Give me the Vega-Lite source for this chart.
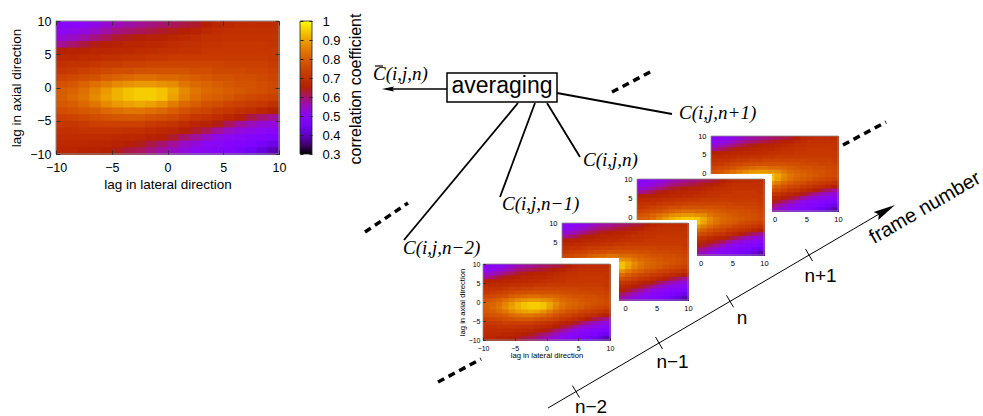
{
"$schema": "https://vega.github.io/schema/vega-lite/v6.json",
"width": 983, "height": 416, "autosize": "none", "padding": 0, "background": "white",
"config": {"view": {"stroke": null}, "font": "Liberation Sans",
  "axis": {"labelFont": "Liberation Sans", "titleFont": "Liberation Sans", "labelColor": "#000", "titleColor": "#000", "titleFontWeight": "normal", "grid": false, "labelFlush": false, "labelOverlap": false},
  "legend": {"labelFont": "Liberation Sans"}},
"datasets": {"grid": [
{"lat":-10,"ax":9,"r":0.50},{"lat":-9,"ax":9,"r":0.50},{"lat":-8,"ax":9,"r":0.51},{"lat":-7,"ax":9,"r":0.52},{"lat":-6,"ax":9,"r":0.54},{"lat":-5,"ax":9,"r":0.56},{"lat":-4,"ax":9,"r":0.57},{"lat":-3,"ax":9,"r":0.58},{"lat":-2,"ax":9,"r":0.59},{"lat":-1,"ax":9,"r":0.60},{"lat":0,"ax":9,"r":0.61},{"lat":1,"ax":9,"r":0.62},{"lat":2,"ax":9,"r":0.63},{"lat":3,"ax":9,"r":0.65},{"lat":4,"ax":9,"r":0.67},{"lat":5,"ax":9,"r":0.68},{"lat":6,"ax":9,"r":0.69},{"lat":7,"ax":9,"r":0.69},{"lat":8,"ax":9,"r":0.69},{"lat":9,"ax":9,"r":0.69},
{"lat":-10,"ax":8,"r":0.51},{"lat":-9,"ax":8,"r":0.52},{"lat":-8,"ax":8,"r":0.53},{"lat":-7,"ax":8,"r":0.55},{"lat":-6,"ax":8,"r":0.57},{"lat":-5,"ax":8,"r":0.59},{"lat":-4,"ax":8,"r":0.60},{"lat":-3,"ax":8,"r":0.61},{"lat":-2,"ax":8,"r":0.62},{"lat":-1,"ax":8,"r":0.63},{"lat":0,"ax":8,"r":0.64},{"lat":1,"ax":8,"r":0.65},{"lat":2,"ax":8,"r":0.66},{"lat":3,"ax":8,"r":0.68},{"lat":4,"ax":8,"r":0.69},{"lat":5,"ax":8,"r":0.70},{"lat":6,"ax":8,"r":0.70},{"lat":7,"ax":8,"r":0.70},{"lat":8,"ax":8,"r":0.70},{"lat":9,"ax":8,"r":0.70},
{"lat":-10,"ax":7,"r":0.54},{"lat":-9,"ax":7,"r":0.55},{"lat":-8,"ax":7,"r":0.57},{"lat":-7,"ax":7,"r":0.59},{"lat":-6,"ax":7,"r":0.61},{"lat":-5,"ax":7,"r":0.63},{"lat":-4,"ax":7,"r":0.64},{"lat":-3,"ax":7,"r":0.65},{"lat":-2,"ax":7,"r":0.66},{"lat":-1,"ax":7,"r":0.66},{"lat":0,"ax":7,"r":0.67},{"lat":1,"ax":7,"r":0.68},{"lat":2,"ax":7,"r":0.69},{"lat":3,"ax":7,"r":0.70},{"lat":4,"ax":7,"r":0.70},{"lat":5,"ax":7,"r":0.71},{"lat":6,"ax":7,"r":0.71},{"lat":7,"ax":7,"r":0.71},{"lat":8,"ax":7,"r":0.71},{"lat":9,"ax":7,"r":0.71},
{"lat":-10,"ax":6,"r":0.58},{"lat":-9,"ax":6,"r":0.60},{"lat":-8,"ax":6,"r":0.62},{"lat":-7,"ax":6,"r":0.64},{"lat":-6,"ax":6,"r":0.65},{"lat":-5,"ax":6,"r":0.66},{"lat":-4,"ax":6,"r":0.67},{"lat":-3,"ax":6,"r":0.67},{"lat":-2,"ax":6,"r":0.68},{"lat":-1,"ax":6,"r":0.68},{"lat":0,"ax":6,"r":0.69},{"lat":1,"ax":6,"r":0.70},{"lat":2,"ax":6,"r":0.70},{"lat":3,"ax":6,"r":0.71},{"lat":4,"ax":6,"r":0.71},{"lat":5,"ax":6,"r":0.72},{"lat":6,"ax":6,"r":0.72},{"lat":7,"ax":6,"r":0.72},{"lat":8,"ax":6,"r":0.72},{"lat":9,"ax":6,"r":0.71},
{"lat":-10,"ax":5,"r":0.65},{"lat":-9,"ax":5,"r":0.66},{"lat":-8,"ax":5,"r":0.66},{"lat":-7,"ax":5,"r":0.67},{"lat":-6,"ax":5,"r":0.67},{"lat":-5,"ax":5,"r":0.68},{"lat":-4,"ax":5,"r":0.68},{"lat":-3,"ax":5,"r":0.69},{"lat":-2,"ax":5,"r":0.69},{"lat":-1,"ax":5,"r":0.70},{"lat":0,"ax":5,"r":0.70},{"lat":1,"ax":5,"r":0.71},{"lat":2,"ax":5,"r":0.71},{"lat":3,"ax":5,"r":0.72},{"lat":4,"ax":5,"r":0.72},{"lat":5,"ax":5,"r":0.72},{"lat":6,"ax":5,"r":0.72},{"lat":7,"ax":5,"r":0.72},{"lat":8,"ax":5,"r":0.72},{"lat":9,"ax":5,"r":0.72},
{"lat":-10,"ax":4,"r":0.68},{"lat":-9,"ax":4,"r":0.68},{"lat":-8,"ax":4,"r":0.69},{"lat":-7,"ax":4,"r":0.69},{"lat":-6,"ax":4,"r":0.70},{"lat":-5,"ax":4,"r":0.70},{"lat":-4,"ax":4,"r":0.71},{"lat":-3,"ax":4,"r":0.71},{"lat":-2,"ax":4,"r":0.72},{"lat":-1,"ax":4,"r":0.72},{"lat":0,"ax":4,"r":0.73},{"lat":1,"ax":4,"r":0.73},{"lat":2,"ax":4,"r":0.73},{"lat":3,"ax":4,"r":0.73},{"lat":4,"ax":4,"r":0.73},{"lat":5,"ax":4,"r":0.73},{"lat":6,"ax":4,"r":0.73},{"lat":7,"ax":4,"r":0.73},{"lat":8,"ax":4,"r":0.73},{"lat":9,"ax":4,"r":0.72},
{"lat":-10,"ax":3,"r":0.70},{"lat":-9,"ax":3,"r":0.71},{"lat":-8,"ax":3,"r":0.71},{"lat":-7,"ax":3,"r":0.72},{"lat":-6,"ax":3,"r":0.73},{"lat":-5,"ax":3,"r":0.73},{"lat":-4,"ax":3,"r":0.74},{"lat":-3,"ax":3,"r":0.74},{"lat":-2,"ax":3,"r":0.75},{"lat":-1,"ax":3,"r":0.75},{"lat":0,"ax":3,"r":0.75},{"lat":1,"ax":3,"r":0.75},{"lat":2,"ax":3,"r":0.75},{"lat":3,"ax":3,"r":0.75},{"lat":4,"ax":3,"r":0.75},{"lat":5,"ax":3,"r":0.74},{"lat":6,"ax":3,"r":0.74},{"lat":7,"ax":3,"r":0.74},{"lat":8,"ax":3,"r":0.74},{"lat":9,"ax":3,"r":0.73},
{"lat":-10,"ax":2,"r":0.72},{"lat":-9,"ax":2,"r":0.73},{"lat":-8,"ax":2,"r":0.74},{"lat":-7,"ax":2,"r":0.75},{"lat":-6,"ax":2,"r":0.76},{"lat":-5,"ax":2,"r":0.77},{"lat":-4,"ax":2,"r":0.77},{"lat":-3,"ax":2,"r":0.78},{"lat":-2,"ax":2,"r":0.78},{"lat":-1,"ax":2,"r":0.78},{"lat":0,"ax":2,"r":0.78},{"lat":1,"ax":2,"r":0.78},{"lat":2,"ax":2,"r":0.77},{"lat":3,"ax":2,"r":0.77},{"lat":4,"ax":2,"r":0.76},{"lat":5,"ax":2,"r":0.76},{"lat":6,"ax":2,"r":0.76},{"lat":7,"ax":2,"r":0.75},{"lat":8,"ax":2,"r":0.75},{"lat":9,"ax":2,"r":0.74},
{"lat":-10,"ax":1,"r":0.75},{"lat":-9,"ax":1,"r":0.76},{"lat":-8,"ax":1,"r":0.77},{"lat":-7,"ax":1,"r":0.78},{"lat":-6,"ax":1,"r":0.80},{"lat":-5,"ax":1,"r":0.81},{"lat":-4,"ax":1,"r":0.82},{"lat":-3,"ax":1,"r":0.83},{"lat":-2,"ax":1,"r":0.83},{"lat":-1,"ax":1,"r":0.82},{"lat":0,"ax":1,"r":0.82},{"lat":1,"ax":1,"r":0.81},{"lat":2,"ax":1,"r":0.80},{"lat":3,"ax":1,"r":0.79},{"lat":4,"ax":1,"r":0.78},{"lat":5,"ax":1,"r":0.78},{"lat":6,"ax":1,"r":0.77},{"lat":7,"ax":1,"r":0.77},{"lat":8,"ax":1,"r":0.76},{"lat":9,"ax":1,"r":0.75},
{"lat":-10,"ax":0,"r":0.78},{"lat":-9,"ax":0,"r":0.79},{"lat":-8,"ax":0,"r":0.81},{"lat":-7,"ax":0,"r":0.83},{"lat":-6,"ax":0,"r":0.85},{"lat":-5,"ax":0,"r":0.87},{"lat":-4,"ax":0,"r":0.88},{"lat":-3,"ax":0,"r":0.89},{"lat":-2,"ax":0,"r":0.89},{"lat":-1,"ax":0,"r":0.88},{"lat":0,"ax":0,"r":0.87},{"lat":1,"ax":0,"r":0.84},{"lat":2,"ax":0,"r":0.82},{"lat":3,"ax":0,"r":0.81},{"lat":4,"ax":0,"r":0.80},{"lat":5,"ax":0,"r":0.79},{"lat":6,"ax":0,"r":0.78},{"lat":7,"ax":0,"r":0.78},{"lat":8,"ax":0,"r":0.77},{"lat":9,"ax":0,"r":0.76},
{"lat":-10,"ax":-1,"r":0.80},{"lat":-9,"ax":-1,"r":0.81},{"lat":-8,"ax":-1,"r":0.83},{"lat":-7,"ax":-1,"r":0.86},{"lat":-6,"ax":-1,"r":0.89},{"lat":-5,"ax":-1,"r":0.92},{"lat":-4,"ax":-1,"r":0.94},{"lat":-3,"ax":-1,"r":0.95},{"lat":-2,"ax":-1,"r":0.95},{"lat":-1,"ax":-1,"r":0.94},{"lat":0,"ax":-1,"r":0.91},{"lat":1,"ax":-1,"r":0.87},{"lat":2,"ax":-1,"r":0.84},{"lat":3,"ax":-1,"r":0.82},{"lat":4,"ax":-1,"r":0.81},{"lat":5,"ax":-1,"r":0.80},{"lat":6,"ax":-1,"r":0.79},{"lat":7,"ax":-1,"r":0.78},{"lat":8,"ax":-1,"r":0.77},{"lat":9,"ax":-1,"r":0.76},
{"lat":-10,"ax":-2,"r":0.80},{"lat":-9,"ax":-2,"r":0.82},{"lat":-8,"ax":-2,"r":0.84},{"lat":-7,"ax":-2,"r":0.87},{"lat":-6,"ax":-2,"r":0.90},{"lat":-5,"ax":-2,"r":0.92},{"lat":-4,"ax":-2,"r":0.94},{"lat":-3,"ax":-2,"r":0.95},{"lat":-2,"ax":-2,"r":0.95},{"lat":-1,"ax":-2,"r":0.94},{"lat":0,"ax":-2,"r":0.90},{"lat":1,"ax":-2,"r":0.86},{"lat":2,"ax":-2,"r":0.83},{"lat":3,"ax":-2,"r":0.81},{"lat":4,"ax":-2,"r":0.80},{"lat":5,"ax":-2,"r":0.79},{"lat":6,"ax":-2,"r":0.77},{"lat":7,"ax":-2,"r":0.76},{"lat":8,"ax":-2,"r":0.75},{"lat":9,"ax":-2,"r":0.74},
{"lat":-10,"ax":-3,"r":0.79},{"lat":-9,"ax":-3,"r":0.80},{"lat":-8,"ax":-3,"r":0.82},{"lat":-7,"ax":-3,"r":0.84},{"lat":-6,"ax":-3,"r":0.87},{"lat":-5,"ax":-3,"r":0.89},{"lat":-4,"ax":-3,"r":0.90},{"lat":-3,"ax":-3,"r":0.91},{"lat":-2,"ax":-3,"r":0.90},{"lat":-1,"ax":-3,"r":0.88},{"lat":0,"ax":-3,"r":0.85},{"lat":1,"ax":-3,"r":0.82},{"lat":2,"ax":-3,"r":0.80},{"lat":3,"ax":-3,"r":0.78},{"lat":4,"ax":-3,"r":0.77},{"lat":5,"ax":-3,"r":0.75},{"lat":6,"ax":-3,"r":0.74},{"lat":7,"ax":-3,"r":0.73},{"lat":8,"ax":-3,"r":0.72},{"lat":9,"ax":-3,"r":0.70},
{"lat":-10,"ax":-4,"r":0.77},{"lat":-9,"ax":-4,"r":0.78},{"lat":-8,"ax":-4,"r":0.79},{"lat":-7,"ax":-4,"r":0.80},{"lat":-6,"ax":-4,"r":0.82},{"lat":-5,"ax":-4,"r":0.83},{"lat":-4,"ax":-4,"r":0.84},{"lat":-3,"ax":-4,"r":0.84},{"lat":-2,"ax":-4,"r":0.83},{"lat":-1,"ax":-4,"r":0.82},{"lat":0,"ax":-4,"r":0.80},{"lat":1,"ax":-4,"r":0.78},{"lat":2,"ax":-4,"r":0.76},{"lat":3,"ax":-4,"r":0.75},{"lat":4,"ax":-4,"r":0.73},{"lat":5,"ax":-4,"r":0.72},{"lat":6,"ax":-4,"r":0.70},{"lat":7,"ax":-4,"r":0.69},{"lat":8,"ax":-4,"r":0.67},{"lat":9,"ax":-4,"r":0.65},
{"lat":-10,"ax":-5,"r":0.74},{"lat":-9,"ax":-5,"r":0.75},{"lat":-8,"ax":-5,"r":0.76},{"lat":-7,"ax":-5,"r":0.77},{"lat":-6,"ax":-5,"r":0.78},{"lat":-5,"ax":-5,"r":0.79},{"lat":-4,"ax":-5,"r":0.79},{"lat":-3,"ax":-5,"r":0.79},{"lat":-2,"ax":-5,"r":0.78},{"lat":-1,"ax":-5,"r":0.77},{"lat":0,"ax":-5,"r":0.76},{"lat":1,"ax":-5,"r":0.74},{"lat":2,"ax":-5,"r":0.72},{"lat":3,"ax":-5,"r":0.71},{"lat":4,"ax":-5,"r":0.69},{"lat":5,"ax":-5,"r":0.67},{"lat":6,"ax":-5,"r":0.65},{"lat":7,"ax":-5,"r":0.62},{"lat":8,"ax":-5,"r":0.60},{"lat":9,"ax":-5,"r":0.58},
{"lat":-10,"ax":-6,"r":0.72},{"lat":-9,"ax":-6,"r":0.72},{"lat":-8,"ax":-6,"r":0.73},{"lat":-7,"ax":-6,"r":0.74},{"lat":-6,"ax":-6,"r":0.74},{"lat":-5,"ax":-6,"r":0.74},{"lat":-4,"ax":-6,"r":0.74},{"lat":-3,"ax":-6,"r":0.74},{"lat":-2,"ax":-6,"r":0.73},{"lat":-1,"ax":-6,"r":0.72},{"lat":0,"ax":-6,"r":0.71},{"lat":1,"ax":-6,"r":0.69},{"lat":2,"ax":-6,"r":0.67},{"lat":3,"ax":-6,"r":0.66},{"lat":4,"ax":-6,"r":0.64},{"lat":5,"ax":-6,"r":0.61},{"lat":6,"ax":-6,"r":0.58},{"lat":7,"ax":-6,"r":0.56},{"lat":8,"ax":-6,"r":0.54},{"lat":9,"ax":-6,"r":0.53},
{"lat":-10,"ax":-7,"r":0.70},{"lat":-9,"ax":-7,"r":0.70},{"lat":-8,"ax":-7,"r":0.71},{"lat":-7,"ax":-7,"r":0.71},{"lat":-6,"ax":-7,"r":0.71},{"lat":-5,"ax":-7,"r":0.71},{"lat":-4,"ax":-7,"r":0.70},{"lat":-3,"ax":-7,"r":0.70},{"lat":-2,"ax":-7,"r":0.69},{"lat":-1,"ax":-7,"r":0.68},{"lat":0,"ax":-7,"r":0.67},{"lat":1,"ax":-7,"r":0.65},{"lat":2,"ax":-7,"r":0.63},{"lat":3,"ax":-7,"r":0.61},{"lat":4,"ax":-7,"r":0.58},{"lat":5,"ax":-7,"r":0.55},{"lat":6,"ax":-7,"r":0.53},{"lat":7,"ax":-7,"r":0.52},{"lat":8,"ax":-7,"r":0.51},{"lat":9,"ax":-7,"r":0.50},
{"lat":-10,"ax":-8,"r":0.69},{"lat":-9,"ax":-8,"r":0.69},{"lat":-8,"ax":-8,"r":0.69},{"lat":-7,"ax":-8,"r":0.69},{"lat":-6,"ax":-8,"r":0.69},{"lat":-5,"ax":-8,"r":0.68},{"lat":-4,"ax":-8,"r":0.68},{"lat":-3,"ax":-8,"r":0.67},{"lat":-2,"ax":-8,"r":0.66},{"lat":-1,"ax":-8,"r":0.65},{"lat":0,"ax":-8,"r":0.63},{"lat":1,"ax":-8,"r":0.60},{"lat":2,"ax":-8,"r":0.58},{"lat":3,"ax":-8,"r":0.55},{"lat":4,"ax":-8,"r":0.52},{"lat":5,"ax":-8,"r":0.51},{"lat":6,"ax":-8,"r":0.50},{"lat":7,"ax":-8,"r":0.49},{"lat":8,"ax":-8,"r":0.48},{"lat":9,"ax":-8,"r":0.47},
{"lat":-10,"ax":-9,"r":0.68},{"lat":-9,"ax":-9,"r":0.68},{"lat":-8,"ax":-9,"r":0.68},{"lat":-7,"ax":-9,"r":0.67},{"lat":-6,"ax":-9,"r":0.67},{"lat":-5,"ax":-9,"r":0.66},{"lat":-4,"ax":-9,"r":0.65},{"lat":-3,"ax":-9,"r":0.64},{"lat":-2,"ax":-9,"r":0.62},{"lat":-1,"ax":-9,"r":0.60},{"lat":0,"ax":-9,"r":0.58},{"lat":1,"ax":-9,"r":0.55},{"lat":2,"ax":-9,"r":0.53},{"lat":3,"ax":-9,"r":0.51},{"lat":4,"ax":-9,"r":0.50},{"lat":5,"ax":-9,"r":0.49},{"lat":6,"ax":-9,"r":0.48},{"lat":7,"ax":-9,"r":0.47},{"lat":8,"ax":-9,"r":0.45},{"lat":9,"ax":-9,"r":0.43},
{"lat":-10,"ax":-10,"r":0.67},{"lat":-9,"ax":-10,"r":0.67},{"lat":-8,"ax":-10,"r":0.66},{"lat":-7,"ax":-10,"r":0.66},{"lat":-6,"ax":-10,"r":0.65},{"lat":-5,"ax":-10,"r":0.64},{"lat":-4,"ax":-10,"r":0.62},{"lat":-3,"ax":-10,"r":0.61},{"lat":-2,"ax":-10,"r":0.59},{"lat":-1,"ax":-10,"r":0.57},{"lat":0,"ax":-10,"r":0.55},{"lat":1,"ax":-10,"r":0.53},{"lat":2,"ax":-10,"r":0.51},{"lat":3,"ax":-10,"r":0.50},{"lat":4,"ax":-10,"r":0.49},{"lat":5,"ax":-10,"r":0.48},{"lat":6,"ax":-10,"r":0.46},{"lat":7,"ax":-10,"r":0.44},{"lat":8,"ax":-10,"r":0.42},{"lat":9,"ax":-10,"r":0.39}
]},
"layer": [
  {"data": {"name": "grid"}, "mark": {"type": "rect", "binSpacing": -1},
   "encoding": {
    "x": {"field": "lat", "type": "quantitative", "bin": {"binned": true, "step": 1}, "scale": {"domain": [-10, 10], "range": [56, 279], "nice": false, "zero": false},
      "axis": {"orient": "bottom", "offset": -262, "values": [-10, -5, 0, 5, 10], "title": "lag in lateral direction", "titleFontSize": 13.5, "titlePadding": 4, "labelFontSize": 12.5, "labelPadding": 11, "tickSize": -4, "tickColor": "#333", "domain": false, "zindex": 1}},
    "y": {"field": "ax", "type": "quantitative", "bin": {"binned": true, "step": 1}, "scale": {"domain": [-10, 10], "range": [154, 21], "nice": false, "zero": false},
      "axis": {"orient": "left", "offset": -56, "values": [-10, -5, 0, 5, 10], "title": "lag in axial direction", "titleFontSize": 13.5, "titlePadding": 6, "labelFontSize": 12.5, "labelPadding": 9, "tickSize": -4, "tickColor": "#333", "domain": false, "zindex": 1}},
    "color": {"field": "r", "type": "quantitative",
      "scale": {"type": "linear", "domain": [0.3,0.335,0.37,0.405,0.44,0.475,0.51,0.545,0.58,0.615,0.65,0.685,0.72,0.755,0.79,0.825,0.86,0.895,0.93,0.965,1.0], "range": ["#000000","#39004f","#510096","#6301ce","#7202f3","#8004ff","#8c07f3","#970bce","#a11096","#ab174f","#b42000","#bd2a00","#c63700","#ce4600","#d55700","#dd6c00","#e48300","#eb9d00","#f2ba00","#f9db00","#ffff00"], "interpolate": "rgb", "zero": false, "nice": false},
      "legend": {"type": "gradient", "orient": "none", "legendX": 300, "legendY": 21, "direction": "vertical", "gradientLength": 133, "gradientThickness": 12, "title": null, "values": [0.3, 1], "labelExpr": "''", "labelFontSize": 1, "labelOffset": 0, "gradientStrokeColor": "#222", "gradientStrokeWidth": 0.8, "padding": 0, "labelOverlap": false}}
   }},
  {"data": {"values": [{}]}, "mark": {"type": "rect", "fill": "transparent", "stroke": "#8c8c8c", "strokeWidth": 1},
   "encoding": {"x": {"datum": -10, "type": "quantitative", "scale": {"domain": [-10, 10], "range": [56, 279], "nice": false, "zero": false}, "axis": null}, "x2": {"datum": 10}, "y": {"datum": -10, "type": "quantitative", "scale": {"domain": [-10, 10], "range": [154, 21], "nice": false, "zero": false}, "axis": null}, "y2": {"datum": 10}}},
  {"data": {"values": [{}]}, "mark": {"type": "point", "opacity": 0},
   "encoding": {"x": {"datum": 0, "type": "quantitative", "scale": {"domain": [-10, 10], "range": [56, 279], "nice": false, "zero": false},
      "axis": {"orient": "top", "offset": -21, "values": [-10, -5, 0, 5, 10], "title": null, "labels": false, "tickSize": -4, "tickColor": "#333", "domain": false, "zindex": 1}},
    "y": {"datum": 0, "type": "quantitative", "scale": {"domain": [-10, 10], "range": [154, 21], "nice": false, "zero": false},
      "axis": {"orient": "right", "offset": -704, "values": [-10, -5, 0, 5, 10], "title": null, "labels": false, "tickSize": -4, "tickColor": "#333", "domain": false, "zindex": 1}}}},
  {"data": {"values": [{}]}, "mark": {"type": "point", "opacity": 0},
   "encoding": {"y": {"datum": 0.3, "type": "quantitative", "scale": {"domain": [0.3, 1], "range": [154, 21], "nice": false, "zero": false},
      "axis": {"orient": "right", "offset": -671, "values": [0.3, 0.4, 0.5, 0.6, 0.7, 0.8, 0.9, 1], "format": ".1~f", "title": null, "labelFontSize": 13, "labelPadding": 13, "tickSize": -3, "tickColor": "#222", "domain": false, "zindex": 1}}}},
  {"data": {"values": [{}]}, "mark": {"type": "point", "opacity": 0},
   "encoding": {"y": {"datum": 0.3, "type": "quantitative", "scale": {"domain": [0.3, 1], "range": [154, 21], "nice": false, "zero": false},
      "axis": {"orient": "left", "offset": -300, "values": [0.3, 0.4, 0.5, 0.6, 0.7, 0.8, 0.9, 1], "title": null, "labels": false, "tickSize": -3, "tickColor": "#222", "domain": false, "zindex": 1}}}},
  {"data": {"name": "grid"}, "mark": {"type": "rect", "binSpacing": -1},
   "encoding": {
    "x": {"field": "lat", "type": "quantitative", "bin": {"binned": true, "step": 1}, "scale": {"domain": [-10, 10], "range": [711, 838], "nice": false, "zero": false},
      "axis": {"orient": "bottom", "offset": -205, "values": [0, 5, 10], "title": null, "labelFontSize": 7.5, "labelPadding": 4, "ticks": false, "domain": false}},
    "y": {"field": "ax", "type": "quantitative", "bin": {"binned": true, "step": 1}, "scale": {"domain": [-10, 10], "range": [211, 136], "nice": false, "zero": false},
      "axis": {"orient": "left", "offset": -711, "values": [0, 5, 10], "title": null, "labelFontSize": 7.5, "labelPadding": 5, "ticks": false, "domain": false}},
    "color": {"field": "r", "type": "quantitative", "legend": null}
   }},
  {"data": {"values": [{}]}, "mark": {"type": "rect", "fill": "transparent", "stroke": "#8c8c8c", "strokeWidth": 0.8},
   "encoding": {"x": {"datum": -10, "type": "quantitative", "scale": {"domain": [-10, 10], "range": [711, 838], "nice": false, "zero": false}, "axis": null}, "x2": {"datum": 10}, "y": {"datum": -10, "type": "quantitative", "scale": {"domain": [-10, 10], "range": [211, 136], "nice": false, "zero": false}, "axis": null}, "y2": {"datum": 10}}},
  {"data": {"values": [{}]}, "mark": {"type": "rect", "fill": "white"},
   "encoding": {"x": {"datum": -10, "type": "quantitative", "scale": {"domain": [-10, 10], "range": [637, 764], "nice": false, "zero": false}, "axis": null}, "x2": {"datum": 11.26}, "y": {"datum": -10, "type": "quantitative", "scale": {"domain": [-10, 10], "range": [255, 179], "nice": false, "zero": false}, "axis": null}, "y2": {"datum": 11.32}}},
  {"data": {"name": "grid"}, "mark": {"type": "rect", "binSpacing": -1},
   "encoding": {
    "x": {"field": "lat", "type": "quantitative", "bin": {"binned": true, "step": 1}, "scale": {"domain": [-10, 10], "range": [637, 764], "nice": false, "zero": false},
      "axis": {"orient": "bottom", "offset": -161, "values": [0, 5, 10], "title": null, "labelFontSize": 7.5, "labelPadding": 4, "ticks": false, "domain": false}},
    "y": {"field": "ax", "type": "quantitative", "bin": {"binned": true, "step": 1}, "scale": {"domain": [-10, 10], "range": [255, 179], "nice": false, "zero": false},
      "axis": {"orient": "left", "offset": -637, "values": [0, 5, 10], "title": null, "labelFontSize": 7.5, "labelPadding": 5, "ticks": false, "domain": false}},
    "color": {"field": "r", "type": "quantitative", "legend": null}
   }},
  {"data": {"values": [{}]}, "mark": {"type": "rect", "fill": "transparent", "stroke": "#8c8c8c", "strokeWidth": 0.8},
   "encoding": {"x": {"datum": -10, "type": "quantitative", "scale": {"domain": [-10, 10], "range": [637, 764], "nice": false, "zero": false}, "axis": null}, "x2": {"datum": 10}, "y": {"datum": -10, "type": "quantitative", "scale": {"domain": [-10, 10], "range": [255, 179], "nice": false, "zero": false}, "axis": null}, "y2": {"datum": 10}}},
  {"data": {"values": [{}]}, "mark": {"type": "rect", "fill": "white"},
   "encoding": {"x": {"datum": -10, "type": "quantitative", "scale": {"domain": [-10, 10], "range": [562, 688], "nice": false, "zero": false}, "axis": null}, "x2": {"datum": 11.43}, "y": {"datum": -10, "type": "quantitative", "scale": {"domain": [-10, 10], "range": [300, 223], "nice": false, "zero": false}, "axis": null}, "y2": {"datum": 10.78}}},
  {"data": {"name": "grid"}, "mark": {"type": "rect", "binSpacing": -1},
   "encoding": {
    "x": {"field": "lat", "type": "quantitative", "bin": {"binned": true, "step": 1}, "scale": {"domain": [-10, 10], "range": [562, 688], "nice": false, "zero": false},
      "axis": {"orient": "bottom", "offset": -116, "values": [0, 5, 10], "title": null, "labelFontSize": 7.5, "labelPadding": 4, "ticks": false, "domain": false}},
    "y": {"field": "ax", "type": "quantitative", "bin": {"binned": true, "step": 1}, "scale": {"domain": [-10, 10], "range": [300, 223], "nice": false, "zero": false},
      "axis": {"orient": "left", "offset": -562, "values": [5, 10], "title": null, "labelFontSize": 7.5, "labelPadding": 5, "ticks": false, "domain": false}},
    "color": {"field": "r", "type": "quantitative", "legend": null}
   }},
  {"data": {"values": [{}]}, "mark": {"type": "rect", "fill": "transparent", "stroke": "#8c8c8c", "strokeWidth": 0.8},
   "encoding": {"x": {"datum": -10, "type": "quantitative", "scale": {"domain": [-10, 10], "range": [562, 688], "nice": false, "zero": false}, "axis": null}, "x2": {"datum": 10}, "y": {"datum": -10, "type": "quantitative", "scale": {"domain": [-10, 10], "range": [300, 223], "nice": false, "zero": false}, "axis": null}, "y2": {"datum": 10}}},
  {"data": {"values": [{}]}, "mark": {"type": "rect", "fill": "white"},
   "encoding": {"x": {"datum": -10, "type": "quantitative", "scale": {"domain": [-10, 10], "range": [483, 610], "nice": false, "zero": false}, "axis": null}, "x2": {"datum": 11.42}, "y": {"datum": -10, "type": "quantitative", "scale": {"domain": [-10, 10], "range": [340, 264], "nice": false, "zero": false}, "axis": null}, "y2": {"datum": 11.58}}},
  {"data": {"name": "grid"}, "mark": {"type": "rect", "binSpacing": -1},
   "encoding": {
    "x": {"field": "lat", "type": "quantitative", "bin": {"binned": true, "step": 1}, "scale": {"domain": [-10, 10], "range": [483, 610], "nice": false, "zero": false},
      "axis": {"orient": "bottom", "offset": -76, "values": [-10, -5, 0, 5, 10], "title": "lag in lateral direction", "titleFontSize": 7.7, "titlePadding": 0, "labelFontSize": 7, "labelPadding": 6.5, "tickSize": -2.5, "tickColor": "#333", "domain": false, "zindex": 1}},
    "y": {"field": "ax", "type": "quantitative", "bin": {"binned": true, "step": 1}, "scale": {"domain": [-10, 10], "range": [340, 264], "nice": false, "zero": false},
      "axis": {"orient": "left", "offset": -483, "values": [-10, -5, 0, 5, 10], "title": "lag in axial direction", "titleFontSize": 7.7, "titlePadding": 2, "labelFontSize": 7, "labelPadding": 5.5, "tickSize": -2.5, "tickColor": "#333", "domain": false, "zindex": 1}},
    "color": {"field": "r", "type": "quantitative", "legend": null}
   }},
  {"data": {"values": [{}]}, "mark": {"type": "rect", "fill": "transparent", "stroke": "#8c8c8c", "strokeWidth": 0.8},
   "encoding": {"x": {"datum": -10, "type": "quantitative", "scale": {"domain": [-10, 10], "range": [483, 610], "nice": false, "zero": false}, "axis": null}, "x2": {"datum": 10}, "y": {"datum": -10, "type": "quantitative", "scale": {"domain": [-10, 10], "range": [340, 264], "nice": false, "zero": false}, "axis": null}, "y2": {"datum": 10}}},
 {"data": {"values": [{}]},
  "layer": [
  {"mark": {"type": "rule", "strokeWidth": 1.5, "color": "black"}, "encoding": {"x": {"datum": 390, "type": "quantitative", "scale": {"domain": [0, 983], "range": [0, 983], "nice": false, "zero": false}, "axis": null}, "y": {"datum": 89, "type": "quantitative", "scale": {"domain": [0, 416], "range": [0, 416], "nice": false, "zero": false}, "axis": null}, "x2": {"datum": 447}, "y2": {"datum": 89}}},
  {"mark": {"type": "rule", "strokeWidth": 1.8, "color": "black"}, "encoding": {"x": {"datum": 518, "type": "quantitative", "axis": null}, "y": {"datum": 103, "type": "quantitative", "axis": null}, "x2": {"datum": 404}, "y2": {"datum": 240}}},
  {"mark": {"type": "rule", "strokeWidth": 1.8, "color": "black"}, "encoding": {"x": {"datum": 535, "type": "quantitative", "axis": null}, "y": {"datum": 103, "type": "quantitative", "axis": null}, "x2": {"datum": 500}, "y2": {"datum": 197}}},
  {"mark": {"type": "rule", "strokeWidth": 1.8, "color": "black"}, "encoding": {"x": {"datum": 547, "type": "quantitative", "axis": null}, "y": {"datum": 103, "type": "quantitative", "axis": null}, "x2": {"datum": 580}, "y2": {"datum": 157}}},
  {"mark": {"type": "rule", "strokeWidth": 1.8, "color": "black"}, "encoding": {"x": {"datum": 557, "type": "quantitative", "axis": null}, "y": {"datum": 93, "type": "quantitative", "axis": null}, "x2": {"datum": 672}, "y2": {"datum": 114}}},
  {"mark": {"type": "rule", "strokeWidth": 1, "color": "black"}, "encoding": {"x": {"datum": 548, "type": "quantitative", "axis": null}, "y": {"datum": 408, "type": "quantitative", "axis": null}, "x2": {"datum": 886}, "y2": {"datum": 210}}},
  {"mark": {"type": "rule", "strokeWidth": 1, "color": "black"}, "encoding": {"x": {"datum": 572.5, "type": "quantitative", "axis": null}, "y": {"datum": 385.6, "type": "quantitative", "axis": null}, "x2": {"datum": 579.5}, "y2": {"datum": 397.6}}},
  {"mark": {"type": "rule", "strokeWidth": 1, "color": "black"}, "encoding": {"x": {"datum": 655.5, "type": "quantitative", "axis": null}, "y": {"datum": 337, "type": "quantitative", "axis": null}, "x2": {"datum": 662.5}, "y2": {"datum": 349}}},
  {"mark": {"type": "rule", "strokeWidth": 1, "color": "black"}, "encoding": {"x": {"datum": 726.5, "type": "quantitative", "axis": null}, "y": {"datum": 295.3, "type": "quantitative", "axis": null}, "x2": {"datum": 733.5}, "y2": {"datum": 307.3}}},
  {"mark": {"type": "rule", "strokeWidth": 1, "color": "black"}, "encoding": {"x": {"datum": 805.5, "type": "quantitative", "axis": null}, "y": {"datum": 249, "type": "quantitative", "axis": null}, "x2": {"datum": 812.5}, "y2": {"datum": 261}}},
  {"mark": {"type": "rule", "strokeWidth": 1.2, "color": "black"}, "encoding": {"x": {"datum": 375, "type": "quantitative", "axis": null}, "y": {"datum": 66, "type": "quantitative", "axis": null}, "x2": {"datum": 383}, "y2": {"datum": 66}}},
  {"mark": {"type": "rule", "strokeWidth": 3.5, "color": "black", "strokeDash": [7, 5]}, "encoding": {"x": {"datum": 612, "type": "quantitative", "axis": null}, "y": {"datum": 92, "type": "quantitative", "axis": null}, "x2": {"datum": 654}, "y2": {"datum": 70}}},
  {"mark": {"type": "rule", "strokeWidth": 3.5, "color": "black", "strokeDash": [7, 5]}, "encoding": {"x": {"datum": 843, "type": "quantitative", "axis": null}, "y": {"datum": 145, "type": "quantitative", "axis": null}, "x2": {"datum": 886}, "y2": {"datum": 122}}},
  {"mark": {"type": "rule", "strokeWidth": 3.5, "color": "black", "strokeDash": [7, 5]}, "encoding": {"x": {"datum": 365, "type": "quantitative", "axis": null}, "y": {"datum": 232, "type": "quantitative", "axis": null}, "x2": {"datum": 408}, "y2": {"datum": 203}}},
  {"mark": {"type": "rule", "strokeWidth": 3.5, "color": "black", "strokeDash": [7, 5]}, "encoding": {"x": {"datum": 438, "type": "quantitative", "axis": null}, "y": {"datum": 382, "type": "quantitative", "axis": null}, "x2": {"datum": 481}, "y2": {"datum": 359}}},
  {"mark": {"type": "rect", "fill": "white", "stroke": "black", "strokeWidth": 1.5}, "encoding": {"x": {"datum": 447, "type": "quantitative", "axis": null}, "y": {"datum": 73, "type": "quantitative", "axis": null}, "x2": {"datum": 557}, "y2": {"datum": 102}}},
  {"mark": {"type": "point", "shape": "M -1 0 L 1 -0.42 L 0.7 0 L 1 0.42 Z", "size": 150, "filled": true, "color": "black", "opacity": 1, "strokeWidth": 0}, "encoding": {"x": {"datum": 388, "type": "quantitative", "axis": null}, "y": {"datum": 89, "type": "quantitative", "axis": null}}},
  {"mark": {"type": "point", "shape": "M 1 0 L -1 -0.42 L -0.7 0 L -1 0.42 Z", "size": 484, "angle": 330, "filled": true, "color": "black", "opacity": 1, "strokeWidth": 0}, "encoding": {"x": {"datum": 885.5, "type": "quantitative", "axis": null}, "y": {"datum": 210.5, "type": "quantitative", "axis": null}}},
  {"mark": {"type": "text", "text": "averaging", "font": "Liberation Sans", "fontSize": 23, "align": "center", "baseline": "alphabetic", "color": "black"}, "encoding": {"x": {"datum": 502, "type": "quantitative", "axis": null}, "y": {"datum": 93, "type": "quantitative", "axis": null}}},
  {"mark": {"type": "text", "text": "C(i,j,n)", "font": "Liberation Serif", "fontStyle": "italic", "fontSize": 19, "align": "left", "baseline": "alphabetic", "color": "black"}, "encoding": {"x": {"datum": 373, "type": "quantitative", "axis": null}, "y": {"datum": 80, "type": "quantitative", "axis": null}}},
  {"mark": {"type": "text", "text": "C(i,j,n+1)", "font": "Liberation Serif", "fontStyle": "italic", "fontSize": 19, "align": "left", "baseline": "alphabetic", "color": "black"}, "encoding": {"x": {"datum": 679, "type": "quantitative", "axis": null}, "y": {"datum": 119, "type": "quantitative", "axis": null}}},
  {"mark": {"type": "text", "text": "C(i,j,n)", "font": "Liberation Serif", "fontStyle": "italic", "fontSize": 19, "align": "left", "baseline": "alphabetic", "color": "black"}, "encoding": {"x": {"datum": 583, "type": "quantitative", "axis": null}, "y": {"datum": 166, "type": "quantitative", "axis": null}}},
  {"mark": {"type": "text", "text": "C(i,j,n−1)", "font": "Liberation Serif", "fontStyle": "italic", "fontSize": 19, "align": "left", "baseline": "alphabetic", "color": "black"}, "encoding": {"x": {"datum": 502, "type": "quantitative", "axis": null}, "y": {"datum": 209.5, "type": "quantitative", "axis": null}}},
  {"mark": {"type": "text", "text": "C(i,j,n−2)", "font": "Liberation Serif", "fontStyle": "italic", "fontSize": 19, "align": "left", "baseline": "alphabetic", "color": "black"}, "encoding": {"x": {"datum": 403, "type": "quantitative", "axis": null}, "y": {"datum": 253.5, "type": "quantitative", "axis": null}}},
  {"mark": {"type": "text", "text": "n−2", "font": "Liberation Sans", "fontSize": 19, "align": "center", "baseline": "alphabetic", "color": "black"}, "encoding": {"x": {"datum": 591, "type": "quantitative", "axis": null}, "y": {"datum": 413, "type": "quantitative", "axis": null}}},
  {"mark": {"type": "text", "text": "n−1", "font": "Liberation Sans", "fontSize": 19, "align": "center", "baseline": "alphabetic", "color": "black"}, "encoding": {"x": {"datum": 672.5, "type": "quantitative", "axis": null}, "y": {"datum": 368, "type": "quantitative", "axis": null}}},
  {"mark": {"type": "text", "text": "n", "font": "Liberation Sans", "fontSize": 19, "align": "center", "baseline": "alphabetic", "color": "black"}, "encoding": {"x": {"datum": 742, "type": "quantitative", "axis": null}, "y": {"datum": 324, "type": "quantitative", "axis": null}}},
  {"mark": {"type": "text", "text": "n+1", "font": "Liberation Sans", "fontSize": 19, "align": "center", "baseline": "alphabetic", "color": "black"}, "encoding": {"x": {"datum": 820.5, "type": "quantitative", "axis": null}, "y": {"datum": 282, "type": "quantitative", "axis": null}}},
  {"mark": {"type": "text", "text": "frame number", "font": "Liberation Sans", "fontSize": 20, "align": "center", "baseline": "alphabetic", "angle": 330, "color": "black"}, "encoding": {"x": {"datum": 928, "type": "quantitative", "axis": null}, "y": {"datum": 213, "type": "quantitative", "axis": null}}},
  {"mark": {"type": "text", "text": "correlation coefficient", "font": "Liberation Sans", "fontSize": 16, "align": "center", "baseline": "middle", "angle": 270, "color": "black"}, "encoding": {"x": {"datum": 356, "type": "quantitative", "axis": null}, "y": {"datum": 89, "type": "quantitative", "axis": null}}}
 ]}
],
"resolve": {"scale": {"x": "independent", "y": "independent"}, "axis": {"x": "independent", "y": "independent"}}
}
